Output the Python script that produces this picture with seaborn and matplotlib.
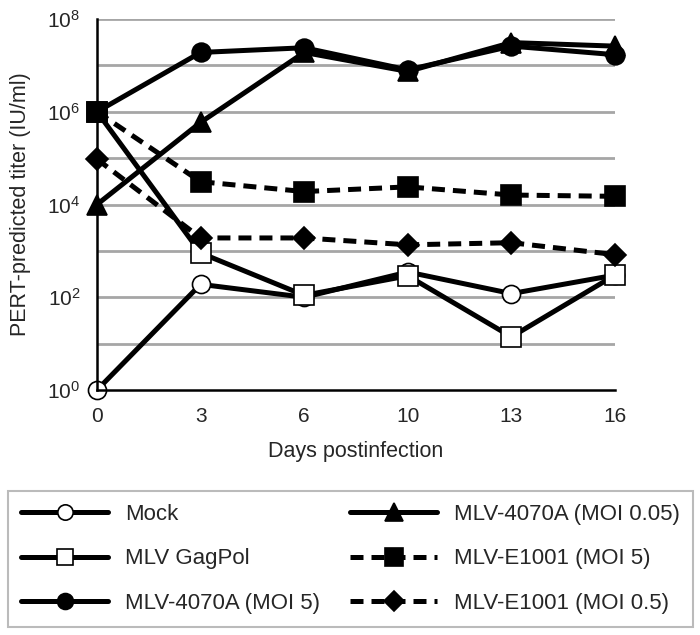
import numpy as np
import pandas as pd
import matplotlib
matplotlib.use("Agg")
import matplotlib.pyplot as plt
import seaborn as sns

# days postinfection (plotted at evenly spaced positions)
days = ["0", "3", "6", "10", "13", "16"]

mock = [1, 190, 100, 350, 120, 300]
gagpol = [1e6, 900, 110, 290, 14, 300]
mlv4070a_moi5 = [1e6, 1.9e7, 2.4e7, 8e6, 2.6e7, 1.7e7]
mlv4070a_moi005 = [1e4, 5.9e5, 1.9e7, 7.4e6, 3.1e7, 2.6e7]
e1001_moi5 = [1e6, 3.1e4, 1.9e4, 2.4e4, 1.6e4, 1.5e4]
e1001_moi05 = [9.5e4, 1.9e3, 1.9e3, 1.35e3, 1.5e3, 830]

series = [
    ("Mock", mock, "o", "white", "-", 13),
    ("MLV GagPol", gagpol, "s", "white", "-", 14),
    ("MLV-4070A (MOI 5)", mlv4070a_moi5, "o", "black", "-", 13.5),
    ("MLV-4070A (MOI 0.05)", mlv4070a_moi005, "^", "black", "-", 15),
    ("MLV-E1001 (MOI 5)", e1001_moi5, "s", "black", "--", 15),
    ("MLV-E1001 (MOI 0.5)", e1001_moi05, "D", "black", "--", 11.5),
]

sns.set_style("white")
plt.rcParams["font.family"] = ["Liberation Sans", "DejaVu Sans"]
plt.rcParams["mathtext.fontset"] = "custom"
plt.rcParams["mathtext.rm"] = "Liberation Sans"
plt.rcParams["mathtext.it"] = "Liberation Sans"

fig = plt.figure(figsize=(7, 6.35), dpi=100)
ax = fig.add_axes([97 / 700, 1 - 390 / 635, (615 - 97) / 700, (390 - 19) / 635])

pos = np.arange(len(days))
for name, vals, mk, fc, ls, ms in series:
    df = pd.DataFrame({"pos": pos, "val": vals})
    sns.lineplot(data=df, x="pos", y="val", ax=ax, color="black",
                 marker=mk, markersize=ms, markerfacecolor=fc,
                 markeredgecolor="black", markeredgewidth=1.2,
                 linewidth=3.6, label=name, clip_on=False)
    l = ax.lines[-1]
    l.set_linestyle(ls)
    if ls == "--":
        l.set_dashes((2.6, 1.6))
    l.set_solid_capstyle("round")

ax.set_yscale("log")
ax.set_ylim(1, 1e8)
ax.set_xlim(0, len(days) - 1)
ax.set_xticks(pos)
ax.set_xticklabels(days)
decades = [10.0 ** k for k in range(9)]
ax.set_yticks(decades)
ax.set_yticklabels([f"$10^{{{k}}}$" if k % 2 == 0 else "" for k in range(9)])
ax.yaxis.set_minor_locator(matplotlib.ticker.NullLocator())
for d in decades[1:]:
    ax.axhline(d, color="#a6a6a6", lw=2, zorder=0)

for side in ["top", "right"]:
    ax.spines[side].set_visible(False)
for side in ["left", "bottom"]:
    ax.spines[side].set_color("black")
    ax.spines[side].set_linewidth(1.8)
ax.tick_params(axis="both", direction="out", length=7, width=1.8,
               color="black", labelsize=15, pad=5)
ax.tick_params(axis="x", pad=5)

ax.set_xlabel("Days postinfection", fontsize=15.5, labelpad=11)
ax.set_ylabel("PERT-predicted titer (IU/ml)", fontsize=15.5, labelpad=12)

handles, labels = ax.get_legend_handles_labels()
ax.get_legend().remove()
leg = fig.legend(handles, labels, loc="lower left",
                 bbox_to_anchor=(8 / 700, 8 / 635, 685 / 700, 144 / 635),
                 mode="expand", ncol=2, fontsize=16, frameon=True,
                 fancybox=False, edgecolor="#aaaaaa", borderaxespad=0,
                 handlelength=3.9, handletextpad=0.75, labelspacing=1.05,
                 borderpad=0.6, columnspacing=2, markerscale=0.85)
leg.get_frame().set_linewidth(1.5)

fig.savefig("out.png", dpi=100)
